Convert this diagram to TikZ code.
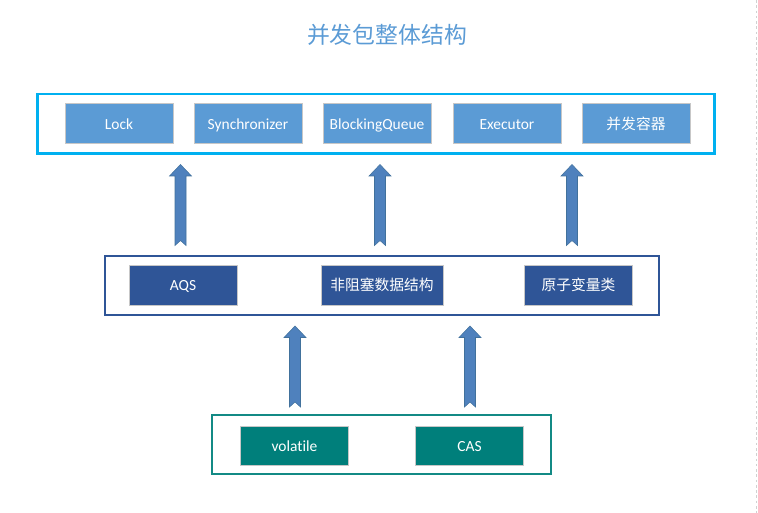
\documentclass[tikz,border=0pt]{standalone}
\usepackage{fontspec}
\setmainfont[Ligatures={NoCommon,NoRare}]{Carlito}
\newfontfamily\cjk{Noto Sans CJK SC}
\usetikzlibrary{calc}
\definecolor{titleblue}{HTML}{5B9BD5}
\definecolor{topline}{HTML}{00B0F0}
\definecolor{topfill}{HTML}{5B9BD5}
\definecolor{midline}{HTML}{2F5597}
\definecolor{midfill}{HTML}{2F5597}
\definecolor{botline}{HTML}{138A85}
\definecolor{botfill}{HTML}{007F7B}
\definecolor{arrfill}{HTML}{4F81BD}
\definecolor{arredge}{HTML}{41719C}
\tikzset{
  layer/.style={draw=#1,line width=1.5pt,minimum height=1.18cm},
  item/.style={fill=#1,draw=black!22,line width=0.5pt,text=white,inner sep=0pt,
    text height=7.5pt,text depth=1.2pt,
    minimum width=2.16cm,minimum height=0.8cm,font=\fontsize{8.8}{10}\selectfont},
  blockarr/.style={fill=arrfill,draw=arredge,line width=0.3pt}
}
\newcommand{\blockup}[2]{%
  \filldraw[blockarr] ($(#1)+(-5.5,0)$) -- ($(#2)+(-5.5,11.5)$) -- ($(#2)+(-11,11.5)$) -- (#2)
    -- ($(#2)+(11,11.5)$) -- ($(#2)+(5.5,11.5)$) -- ($(#1)+(5.5,0)$) -- ($(#1)+(0,-5)$) -- cycle;}
\begin{document}
\begin{tikzpicture}[x=0.02cm,y=-0.02cm]
\useasboundingbox (0,0) rectangle (758,513);
\draw[black!18,dash pattern=on 1.5pt off 1.5pt] (756.5,0) -- (756.5,513);
\node[text=titleblue,font=\cjk\fontsize{13}{15}\selectfont] (title) at (387,35) {并发包整体结构};

\node[layer=topline,line width=1.7pt,minimum width=13.56cm,minimum height=1.2cm] (top) at (376,124) {};
\node[item=topfill] (lock) at (119,123.5) {Lock};
\node[item=topfill] (sync) at (248,123.5) {Synchronizer};
\node[item=topfill] (queue) at (377,123.5) {BlockingQueue};
\node[item=topfill] (exec) at (507,123.5) {Executor};
\node[item=topfill,font=\cjk\fontsize{8.4}{10}\selectfont] (cont) at (636,123.5) {并发容器};

\node[layer=midline,minimum width=11.08cm] (mid) at (382,285.5) {};
\node[item=midfill] (aqs) at (183,285) {AQS};
\node[item=midfill,minimum width=2.44cm,font=\cjk\fontsize{8.4}{10}\selectfont] (nonblock) at (382,285) {非阻塞数据结构};
\node[item=midfill,font=\cjk\fontsize{8.4}{10}\selectfont] (atomic) at (578.5,285) {原子变量类};

\node[layer=botline,minimum width=6.78cm] (bot) at (381.5,444.5) {};
\node[item=botfill,minimum height=0.78cm] (vol) at (294.5,445.5) {volatile};
\node[item=botfill,minimum height=0.78cm] (cas) at (469.5,445.5) {CAS};

\coordinate (a1) at (180.5,245.5); \coordinate (t1) at (180.5,164.5);
\coordinate (a2) at (380,245.5); \coordinate (t2) at (380,164.5);
\coordinate (a3) at (572,245.5); \coordinate (t3) at (572,164.5);
\coordinate (a4) at (295,407); \coordinate (t4) at (295,326);
\coordinate (a5) at (470,407); \coordinate (t5) at (470,326);
\blockup{a1}{t1}
\blockup{a2}{t2}
\blockup{a3}{t3}
\blockup{a4}{t4}
\blockup{a5}{t5}
\end{tikzpicture}
\end{document}
